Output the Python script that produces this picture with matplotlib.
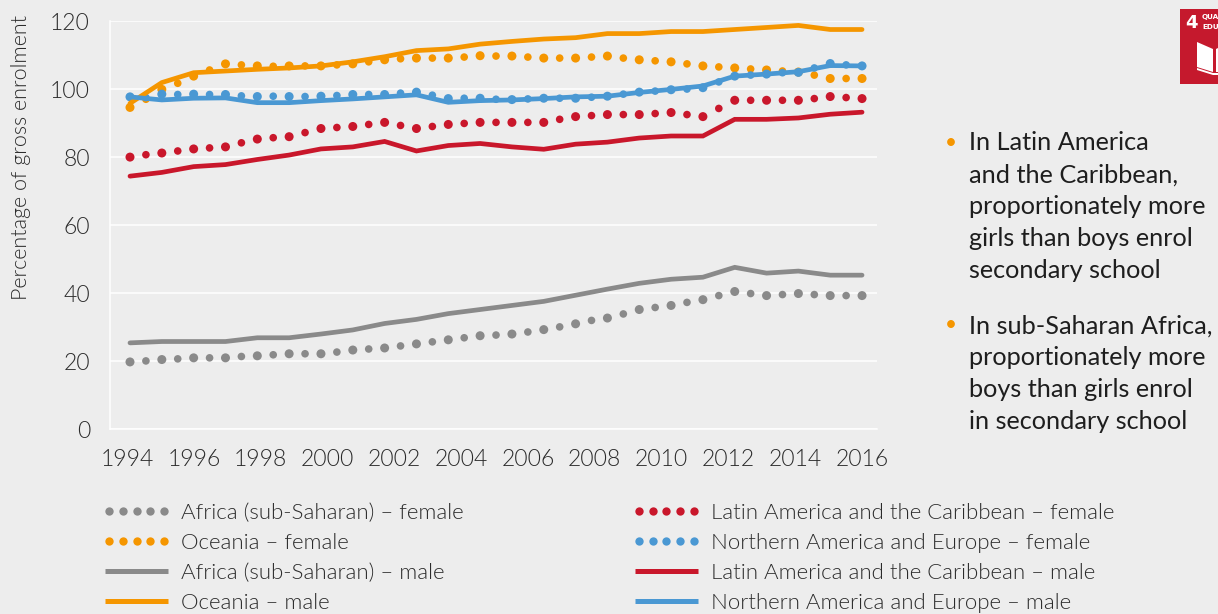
import numpy as np
import matplotlib
matplotlib.use('Agg')
import matplotlib.pyplot as plt
from matplotlib import font_manager
from matplotlib.font_manager import FontProperties
from matplotlib.legend_handler import HandlerLine2D
from matplotlib.lines import Line2D
from matplotlib.patches import Polygon

# Data: 24 yearly steps for the lines, half steps for the dots
year_ticks = [1994, 1996, 1998, 2000, 2002, 2004, 2006, 2008, 2010, 2012, 2014, 2016]
y_ticks = [0, 20, 40, 60, 80, 100, 120]

africa_male = [25.4, 25.8, 25.8, 25.8, 26.9, 26.9, 28.0, 29.2, 31.1, 32.3, 34.0, 35.2,
               36.4, 37.6, 39.4, 41.2, 42.9, 44.1, 44.7, 47.6, 45.9, 46.5, 45.3, 45.3]
latin_male = [74.4, 75.5, 77.2, 77.8, 79.3, 80.6, 82.4, 83.0, 84.6, 81.8, 83.4, 84.0,
              83.0, 82.3, 83.8, 84.4, 85.6, 86.2, 86.2, 91.1, 91.1, 91.5, 92.6, 93.2]
oceania_male = [95.8, 101.9, 104.8, 105.3, 105.8, 106.2, 106.8, 108.0, 109.5, 111.3, 111.8, 113.2,
                114.0, 114.7, 115.1, 116.3, 116.3, 116.9, 116.9, 117.5, 118.1, 118.7, 117.5, 117.5]
north_male = [97.7, 96.8, 97.3, 97.4, 96.0, 96.0, 96.6, 97.1, 97.7, 98.3, 96.1, 96.6,
              96.8, 97.2, 97.7, 97.9, 99.0, 99.9, 100.9, 103.8, 104.4, 105.1, 106.9, 106.8]

africa_female = [19.8, 20.1, 20.5, 20.7, 21.0, 21.0, 21.0, 21.4, 21.6, 21.9, 22.2, 22.2,
                 22.2, 22.7, 23.3, 23.6, 23.9, 24.5, 25.1, 25.7, 26.3, 26.9, 27.5, 27.7,
                 28.0, 28.6, 29.3, 30.1, 31.0, 32.0, 32.7, 33.9, 35.2, 35.8, 36.4, 37.3,
                 38.1, 39.3, 40.5, 39.9, 39.3, 39.6, 39.9, 39.6, 39.3, 39.3, 39.3]
latin_female = [80.0, 80.7, 81.2, 81.8, 82.4, 82.7, 83.0, 84.2, 85.3, 85.7, 86.0, 87.2,
                88.4, 88.7, 89.0, 89.6, 90.2, 89.3, 88.4, 89.0, 89.6, 89.9, 90.2, 90.2,
                90.2, 90.2, 90.2, 91.1, 91.9, 92.2, 92.5, 92.5, 92.5, 92.8, 93.1, 92.5,
                91.9, 94.3, 96.7, 96.7, 96.7, 96.7, 96.7, 97.2, 97.8, 97.5, 97.2]
oceania_female = [94.6, 97.0, 99.9, 101.7, 103.8, 105.6, 107.4, 107.1, 106.8, 106.7, 106.8, 106.8,
                  106.8, 107.1, 107.4, 108.0, 108.6, 108.9, 109.1, 109.1, 109.1, 109.4, 109.8, 109.7,
                  109.7, 109.4, 109.1, 109.1, 109.1, 109.4, 109.7, 109.1, 108.6, 108.3, 108.0, 107.4,
                  106.8, 106.5, 106.2, 105.9, 105.6, 105.3, 105.0, 104.1, 103.1, 103.1, 103.1]
north_female = [97.7, 97.5, 98.5, 98.4, 98.5, 98.4, 98.4, 98.0, 97.8, 97.9, 97.8, 97.8,
                97.9, 98.1, 98.4, 98.4, 98.4, 98.8, 99.1, 98.2, 97.2, 97.3, 97.3, 97.0,
                96.9, 97.1, 97.3, 97.3, 97.3, 97.6, 97.9, 98.5, 99.1, 99.4, 99.8, 100.0,
                100.4, 102.1, 103.8, 104.1, 104.4, 104.8, 104.9, 106.2, 107.5, 107.1, 106.8]

grey = '#8A8A8A'
red = '#C9172B'
orange = '#F59600'
blue = '#4A98D3'
bg = '#EDEDED'
W, H = 1218, 614

plt.rcParams['font.family'] = ['Lato', 'DejaVu Sans']


# Lato Light by file, the weight lookup picks a thinner cut
def light(size):
    for f in font_manager.fontManager.ttflist:
        name = f.fname.split('/')[-1]
        if name == 'Lato-Light.ttf':
            return FontProperties(fname=f.fname, size=size)
    return FontProperties(family='Lato', size=size)


fig = plt.figure(figsize=(W / 100, H / 100), dpi=100, facecolor=bg)
ax = fig.add_axes([109.5 / W, 1 - 429.3 / H, 767.5 / W, 408.3 / H], facecolor=bg)

line_x = np.arange(len(africa_male))
dot_x = np.arange(len(africa_female)) / 2
dot_sizes = [42 if i % 2 == 0 else 30 for i in range(len(dot_x))]

for values, color in [(africa_female, grey), (latin_female, red),
                      (oceania_female, orange), (north_female, blue)]:
    ax.scatter(dot_x, values, s=dot_sizes, color=color, linewidths=0, zorder=3)

for values, color in [(africa_male, grey), (latin_male, red),
                      (oceania_male, orange), (north_male, blue)]:
    ax.plot(line_x, values, color=color, lw=3.4, solid_capstyle='round',
            solid_joinstyle='miter', zorder=4)

ax.set_xlim(-0.644, 23.47)
ax.set_ylim(0, 120)
ax.set_xticks(np.linspace(-0.09, 23.0, len(year_ticks)), labels=year_ticks)
ax.set_yticks(y_ticks)
ax.tick_params(length=0, labelcolor='#2B2B2B', width=0)
ax.tick_params(axis='x', pad=14)
ax.tick_params(axis='y', pad=14)
for label in ax.get_xticklabels() + ax.get_yticklabels():
    label.set_fontproperties(light(16.5))
ax.grid(axis='y', color='white', lw=1.1)
ax.set_axisbelow(True)
for side in ['top', 'right']:
    ax.spines[side].set_visible(False)
for side in ['left', 'bottom']:
    ax.spines[side].set_color('white')
    ax.spines[side].set_linewidth(1.1)

ax.set_ylabel('Percentage of gross enrolment', fontproperties=light(15.5),
              color='#2B2B2B', va='center')
ax.yaxis.set_label_coords((21 - 109.5) / 767.5, (429.3 - 157.5) / 408.3)


# Legend, filled column by column
def dots(color):
    return Line2D([], [], ls='', marker='o', ms=6, mew=0, color=color)


def solid(color):
    return Line2D([], [], lw=3.6, color=color, solid_capstyle='butt')


dot_handles = {c: dots(c) for c in [grey, orange, red, blue]}
line_handles = {c: solid(c) for c in [grey, orange, red, blue]}
handles = [dot_handles[grey], dot_handles[orange], line_handles[grey], line_handles[orange],
           dot_handles[red], dot_handles[blue], line_handles[red], line_handles[blue]]
labels = ['Africa (sub-Saharan) – female', 'Oceania – female',
          'Africa (sub-Saharan) – male', 'Oceania – male',
          'Latin America and the Caribbean – female', 'Northern America and Europe – female',
          'Latin America and the Caribbean – male', 'Northern America and Europe – male']
handler_map = {h: HandlerLine2D(numpoints=5, marker_pad=0.18) for h in dot_handles.values()}
handler_map.update({h: HandlerLine2D(numpoints=2, marker_pad=0) for h in line_handles.values()})
leg = fig.legend(handles, labels, ncol=2, loc='upper left',
                 bbox_to_anchor=(105 / W, 1 - 503 / H), frameon=False,
                 handler_map=handler_map,
                 borderpad=0, borderaxespad=0, handlelength=2.84,
                 handletextpad=0.585, labelspacing=0.45, columnspacing=7.7,
                 prop=light(16))
for text in leg.get_texts():
    text.set_color('#2B2B2B')

# Text block on the right
for top, block in [(141, 'In Latin America\nand the Caribbean,\nproportionately more\ngirls than boys enrol\nsecondary school'),
                   (324, 'In sub-Saharan Africa,\nproportionately more\nboys than girls enrol\nin secondary school')]:
    fig.text(969 / W, 1 - (top - 9.5) / H, block, fontsize=18.2, color='#1E1E1E',
             va='top', ha='left', linespacing=1.47)
    fig.text(951 / W, 1 - (top + 1.5) / H, '•', fontsize=15, color=orange, va='center', ha='center')

# SDG 4 icon, cut by the right edge
icon = fig.add_axes([1180 / W, 1 - 84 / H, 38 / W, 75 / H])
icon.set_xlim(1180, 1218)
icon.set_ylim(84, 9)
icon.set_facecolor('#C5192D')
icon.set_xticks([])
icon.set_yticks([])
for side in icon.spines.values():
    side.set_visible(False)
icon.add_patch(Polygon([(1197, 42), (1213, 49), (1213, 72), (1197, 67)], fc='white', lw=0))
icon.add_patch(Polygon([(1216, 49), (1218, 48), (1218, 72), (1216, 72)], fc='white', lw=0))
icon.add_patch(Polygon([(1197, 70), (1213, 75), (1218, 75), (1218, 73), (1213, 73), (1197, 68)], fc='white', lw=0))
narrow = ['Liberation Sans Narrow', 'DejaVu Sans']
fig.text(1191 / W, 1 - 23.5 / H, '4', color='white', fontsize=13, fontweight='bold',
         family=narrow, ha='center', va='center')
fig.text(1202 / W, 1 - 17.5 / H, 'QUALITY', color='white', fontsize=5.2, fontweight='bold',
         family=narrow, ha='left', va='center')
fig.text(1202 / W, 1 - 27 / H, 'EDUCATION', color='white', fontsize=5.2, fontweight='bold',
         family=narrow, ha='left', va='center')

fig.savefig('out.png', dpi=100, facecolor=bg)
